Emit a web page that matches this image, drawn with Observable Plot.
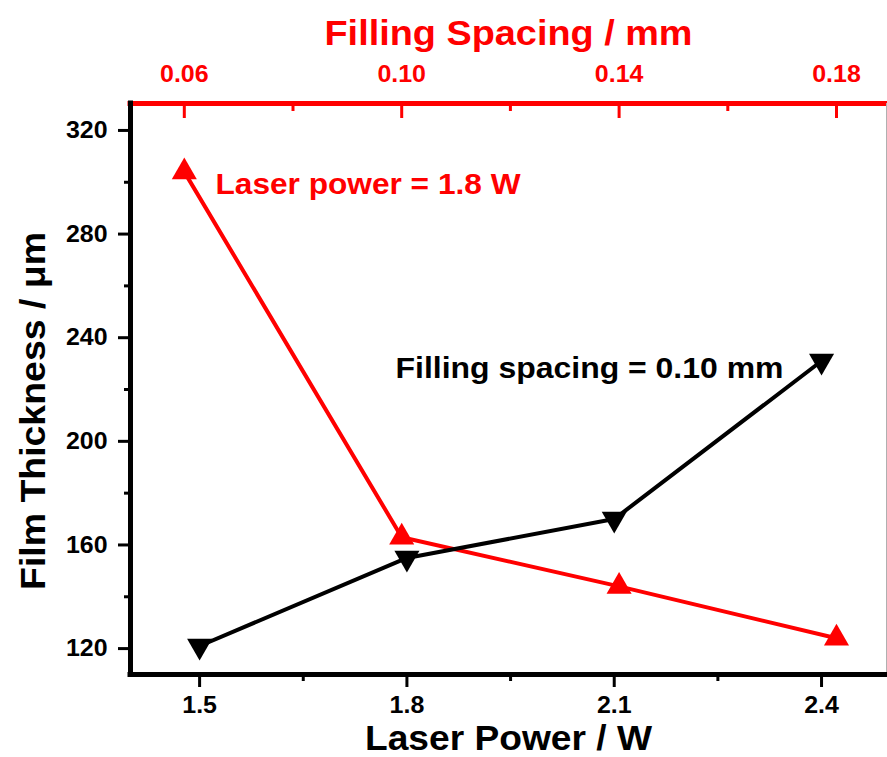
<!DOCTYPE html>
<html>
<head>
<meta charset="utf-8">
<script src="https://cdn.jsdelivr.net/npm/d3@7"></script>
<script src="https://cdn.jsdelivr.net/npm/@observablehq/plot@0.6"></script>
<style>
  html, body { margin: 0; padding: 0; background: #fff; }
  #chart { position: relative; width: 887px; height: 757px; }
  #chart svg { position: absolute; left: 0; top: 0; }
  #chart svg text { font-family: 'Liberation Sans', Arial, sans-serif; font-weight: bold; }
  #chart svg.layer-red g[aria-label^="x-axis"] { color: #ff0000; }
  #chart svg.layer-black g[aria-label^="x-axis"],
  #chart svg.layer-black g[aria-label^="y-axis"] { color: #000; }
</style>
</head>
<body>
<div id="chart"></div>
<script>
// ---- data ----
const laserPower = [1.5, 1.8, 2.1, 2.4];
const thicknessVsPower = [121, 155, 170, 231];
const fillingSpacing = [0.06, 0.10, 0.14, 0.18];
const thicknessVsSpacing = [304, 163, 144, 124];

// ---- ticks ----
const powerTicks = [1.5, 1.8, 2.1, 2.4];
const powerMinorTicks = [1.65, 1.95, 2.25];
const spacingTicks = [0.06, 0.10, 0.14, 0.18];
const spacingMinorTicks = [0.08, 0.12, 0.16];
const thicknessTicks = [120, 160, 200, 240, 280, 320];
const thicknessMinorTicks = [140, 180, 220, 260, 300];

// ---- domains ----
const powerDomain = [1.4, 2.494];
const spacingDomain = [0.0501, 0.1892];
const thicknessDomain = [110, 330.4];

// ---- texts ----
const xTitle = "Laser Power / W";
const x2Title = "Filling Spacing / mm";
const yTitle = "Film Thickness / μm";
const powerNote = "Filling spacing = 0.10 mm";
const spacingNote = "Laser power = 1.8 W";

const powerData = laserPower.map((p, i) => ({power: p, thickness: thicknessVsPower[i]}));
const spacingData = fillingSpacing.map((s, i) => ({spacing: s, thickness: thicknessVsSpacing[i]}));

const RED = "#ff0000";
const W = 887, H = 757, ML = 130, MR = 1, MT = 103, MB = 83;
const FW = W - ML - MR, FH = H - MT - MB;
const TICK_FONT = 24;

const layout = {
  width: W, height: H,
  marginLeft: ML, marginRight: MR, marginTop: MT, marginBottom: MB,
  style: {fontFamily: "'Liberation Sans', Arial, sans-serif", fontWeight: "bold",
          background: "transparent", overflow: "visible"}
};

// downward-pointing triangle symbol (mirror of d3.symbolTriangle)
const triangleDown = {
  draw(context, size) {
    const y = -Math.sqrt(size / (Math.sqrt(3) * 3));
    context.moveTo(0, -y * 2);
    context.lineTo(-Math.sqrt(3) * y, y);
    context.lineTo(Math.sqrt(3) * y, y);
    context.closePath();
  }
};

// ---- layer 1: filling spacing series (top red axis) ----
const redPlot = Plot.plot({
  ...layout,
  x: {domain: spacingDomain, axis: "top", ticks: spacingTicks, tickSize: -14, tickPadding: 36,
      tickFormat: d3.format(".2f"), label: null},
  y: {domain: thicknessDomain, axis: null},
  marks: [
    Plot.line(spacingData, {x: "spacing", y: "thickness", stroke: RED, strokeWidth: 4}),
    Plot.dot(spacingData, {x: "spacing", y: "thickness", symbol: "triangle", r: 9.3, fill: RED, stroke: null}),
    Plot.ruleY([thicknessDomain[1]], {stroke: RED, strokeWidth: 5, insetLeft: -2.5, insetRight: -1}),
    Plot.tickX(spacingMinorTicks, {x: d => d, insetTop: 0, insetBottom: FH - 8, stroke: RED, strokeWidth: 3}),
    Plot.text([x2Title], {text: d => d, frameAnchor: "top", dy: -59, lineAnchor: "bottom",
      fill: RED, fontSize: 35, fontWeight: "bold"}),
    Plot.text([spacingNote], {text: d => d, frameAnchor: "top-left", dx: 85, dy: 90,
      textAnchor: "start", lineAnchor: "bottom", fill: RED, fontSize: 29, fontWeight: "bold"})
  ]
});
redPlot.classList.add("layer-red");

// ---- layer 2: laser power series (bottom & left black axes) ----
const blackPlot = Plot.plot({
  ...layout,
  x: {domain: powerDomain, axis: "bottom", ticks: powerTicks, tickSize: 13, tickPadding: 8,
      tickFormat: d3.format(".1f"), label: null},
  y: {domain: thicknessDomain, axis: "left", ticks: thicknessTicks, tickSize: 12, tickPadding: 11,
      tickFormat: d3.format("d"), label: null},
  marks: [
    Plot.line(powerData, {x: "power", y: "thickness", stroke: "black", strokeWidth: 4}),
    Plot.dot(powerData, {x: "power", y: "thickness", symbol: triangleDown, r: 9.3, fill: "black", stroke: null}),
    Plot.ruleX([powerDomain[1]], {stroke: "#b0b0b0", strokeWidth: 1}),
    Plot.ruleX([powerDomain[0]], {stroke: "black", strokeWidth: 5, insetTop: -2.5, insetBottom: -2.5}),
    Plot.ruleY([thicknessDomain[0]], {stroke: "black", strokeWidth: 5, insetLeft: -2.5, insetRight: -1}),
    Plot.tickY(thicknessMinorTicks, {y: d => d, insetLeft: -6, insetRight: FW, stroke: "black", strokeWidth: 3}),
    Plot.tickX(powerMinorTicks, {x: d => d, insetTop: FH, insetBottom: -7, stroke: "black", strokeWidth: 3}),
    Plot.text([xTitle], {text: d => d, frameAnchor: "bottom", dy: 75, lineAnchor: "bottom",
      fill: "black", fontSize: 35, fontWeight: "bold"}),
    Plot.text([yTitle], {text: d => d, frameAnchor: "left", dx: -97, dy: 22, rotate: -90,
      textAnchor: "middle", lineAnchor: "middle",
      fill: "black", fontSize: 35, fontWeight: "bold"}),
    Plot.text([powerNote], {text: d => d, frameAnchor: "top-left", dx: 265, dy: 274,
      textAnchor: "start", lineAnchor: "bottom", fill: "black", fontSize: 29, fontWeight: "bold"})
  ]
});
blackPlot.classList.add("layer-black");

const chart = document.getElementById("chart");
chart.appendChild(redPlot);
chart.appendChild(blackPlot);

// stretch the titles/annotations to the reference's (horizontally wide) lettering
const textLengths = new Map([
  [x2Title, 368], [xTitle, 287], [yTitle, 358], [spacingNote, 305], [powerNote, 388]
]);
d3.selectAll("#chart svg text").each(function() {
  const len = textLengths.get(this.textContent);
  if (len) {
    this.setAttribute("textLength", len);
    this.setAttribute("lengthAdjust", "spacingAndGlyphs");
  } else {
    // axis tick labels: larger, slightly wider bold lettering as in the reference
    this.setAttribute("font-size", TICK_FONT);
    this.style.setProperty("font-size", TICK_FONT + "px", "important");
    const natural = this.getComputedTextLength();
    if (natural > 0) {
      this.setAttribute("textLength", (natural * 1.04).toFixed(1));
      this.setAttribute("lengthAdjust", "spacingAndGlyphs");
    }
  }
});
// thicker major tick marks of the axes
d3.selectAll("#chart svg g[aria-label*='axis'] line, #chart svg g[aria-label*='axis'] path, #chart svg g.tick line")
  .each(function() { this.style.setProperty("stroke-width", "3px", "important"); });
</script>
</body>
</html>
